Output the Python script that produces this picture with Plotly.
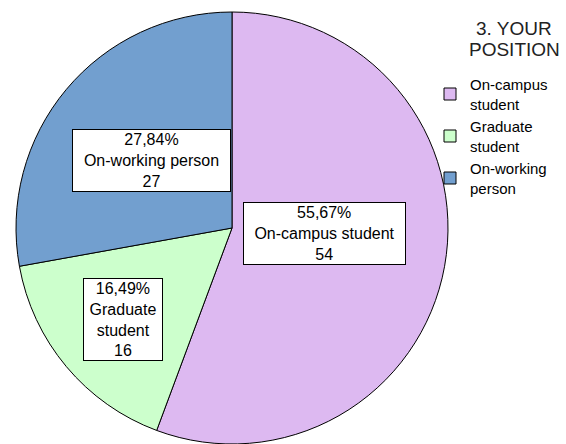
import plotly.graph_objects as go

# Survey question 3: respondent position
categories = ["On-campus student", "Graduate student", "On-working person"]
legend_labels = ["On-campus<br>student", "Graduate<br>student", "On-working<br>person"]
box_labels = ["On-campus student", "Graduate<br>student", "On-working person"]
counts = [54, 16, 27]
colors = ["#DDB9F1", "#CCFFCC", "#729FCF"]
legend_title_lines = ["3. YOUR", "POSITION"]

W, H = 566, 444
FONT = "Liberation Sans, Arial, sans-serif"
total = sum(counts)


def px_x(x):
    return x / W


def px_y(y):
    return 1 - y / H


fig = go.Figure(
    go.Pie(
        labels=legend_labels,
        values=counts,
        sort=False,
        direction="clockwise",
        rotation=0,
        marker=dict(colors=colors, line=dict(color="black", width=1)),
        textinfo="none",
        hovertext=categories,
        hoverinfo="text+value+percent",
        domain=dict(x=[px_x(15), px_x(449)], y=[0, px_y(12)]),
    )
)

# Label boxes: pixel centre and text width of each box
box_pos = [(324.5, 234, 159), (123, 319, 76), (151.5, 160, 155)]

for name, n, (cx, cy, bw) in zip(box_labels, counts, box_pos):
    pct = f"{100 * n / total:.2f}".replace(".", ",")
    fig.add_annotation(
        x=px_x(cx), y=px_y(cy), xref="paper", yref="paper",
        xanchor="center", yanchor="middle",
        text=f"{pct}%<br>{name}<br>{n}",
        showarrow=False, width=bw,
        font=dict(family=FONT, size=16, color="black"),
        bgcolor="white", bordercolor="black", borderwidth=1, borderpad=1,
    )

# Legend heading, centred above the legend entries (one line each, tight leading)
for line, cy in zip(legend_title_lines, (28, 50)):
    fig.add_annotation(
        x=px_x(514), y=px_y(cy), xref="paper", yref="paper",
        xanchor="center", yanchor="middle",
        text=line, showarrow=False, borderpad=0,
        font=dict(family=FONT, size=19, color="#222222"),
    )

fig.update_layout(
    width=W, height=H,
    margin=dict(l=0, r=0, t=0, b=0),
    paper_bgcolor="white", plot_bgcolor="white",
    showlegend=True,
    legend=dict(
        x=px_x(430), y=px_y(68), xanchor="left", yanchor="top",
        font=dict(family=FONT, size=15, color="black"),
        bgcolor="rgba(0,0,0,0)",
    ),
)

fig.write_html("out.html")
